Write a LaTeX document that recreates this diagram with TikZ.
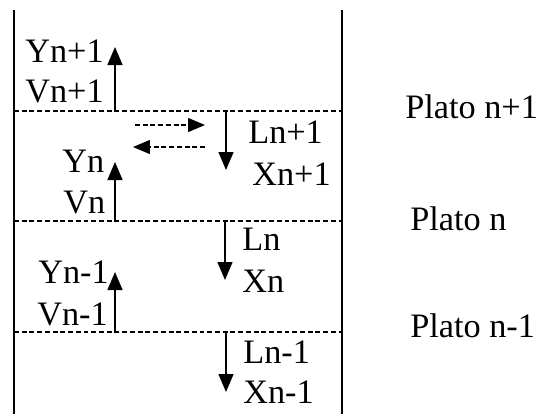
\documentclass[tikz,border=0pt]{standalone}
\usepackage{fontspec}
\setmainfont{Liberation Serif}
\usetikzlibrary{arrows.meta}

\begin{document}
\begin{tikzpicture}[
  x=0.02cm,y=-0.02cm,
  lbl/.style={anchor=base west,inner sep=0pt,font=\fontsize{19.5}{22}\selectfont},
  wall/.style={line width=1.1pt},
  tray/.style={line width=0.7pt,dash pattern=on 2.8pt off 1.6pt},
  flow/.style={-{Triangle[width=0.3cm,length=0.36cm]},line width=0.8pt},
  mix/.style={-{Triangle[width=0.28cm,length=0.34cm]},line width=0.7pt,
              dash pattern=on 2.8pt off 1.6pt}
]
\useasboundingbox (0,0) rectangle (541,414);
% Column walls
\coordinate (wlt) at (14,10);
\coordinate (wlb) at (14,414);
\coordinate (wrt) at (342,10);
\coordinate (wrb) at (342,414);
\draw[wall] (wlt) -- (wlb);
\draw[wall] (wrt) -- (wrb);
% Trays
\coordinate (t1l) at (14,111);  \coordinate (t1r) at (342,111);
\coordinate (t2l) at (14,221);  \coordinate (t2r) at (342,221);
\coordinate (t3l) at (14,332);  \coordinate (t3r) at (342,332);
\draw[tray] (t1l) -- (t1r);
\draw[tray] (t2l) -- (t2r);
\draw[tray] (t3l) -- (t3r);
% Vapour
\node[lbl] (yn1) at (25,62) {Yn+1};
\node[lbl] (vn1) at (25,102) {Vn+1};
\node[lbl] (yn) at (62,172) {Yn};
\node[lbl] (vn) at (63,213) {Vn};
\node[lbl] (ym1) at (38,283) {Yn-1};
\node[lbl] (vm1) at (37,325) {Vn-1};
\coordinate (va1) at (115,111); \coordinate (vb1) at (115,47);
\coordinate (va2) at (115,221); \coordinate (vb2) at (115,162);
\coordinate (va3) at (115,332); \coordinate (vb3) at (115,272);
\draw[flow] (va1) -- (vb1);
\draw[flow] (va2) -- (vb2);
\draw[flow] (va3) -- (vb3);
% Liquid
\node[lbl] (ln1) at (248,143) {Ln+1};
\node[lbl] (xn1) at (252,185) {Xn+1};
\node[lbl] (ln) at (242,250) {Ln};
\node[lbl] (xn) at (242,292) {Xn};
\node[lbl] (lm1) at (243,363) {Ln-1};
\node[lbl] (xm1) at (243,403) {Xn-1};
\coordinate (la1) at (226,111); \coordinate (lb1) at (226,170);
\coordinate (la2) at (225,221); \coordinate (lb2) at (225,280);
\coordinate (la3) at (226,332); \coordinate (lb3) at (226,392);
\draw[flow] (la1) -- (lb1);
\draw[flow] (la2) -- (lb2);
\draw[flow] (la3) -- (lb3);
% Exchange
\coordinate (ea) at (135,125); \coordinate (eb) at (205,125);
\coordinate (ec) at (205,147); \coordinate (ed) at (133,147);
\draw[mix] (ea) -- (eb);
\draw[mix] (ec) -- (ed);
% Plates
\node[lbl] (p1) at (405,118) {Plato n+1};
\node[lbl] (p0) at (410,230) {Plato n};
\node[lbl] (pm) at (410,337) {Plato n-1};
\end{tikzpicture}
\end{document}
